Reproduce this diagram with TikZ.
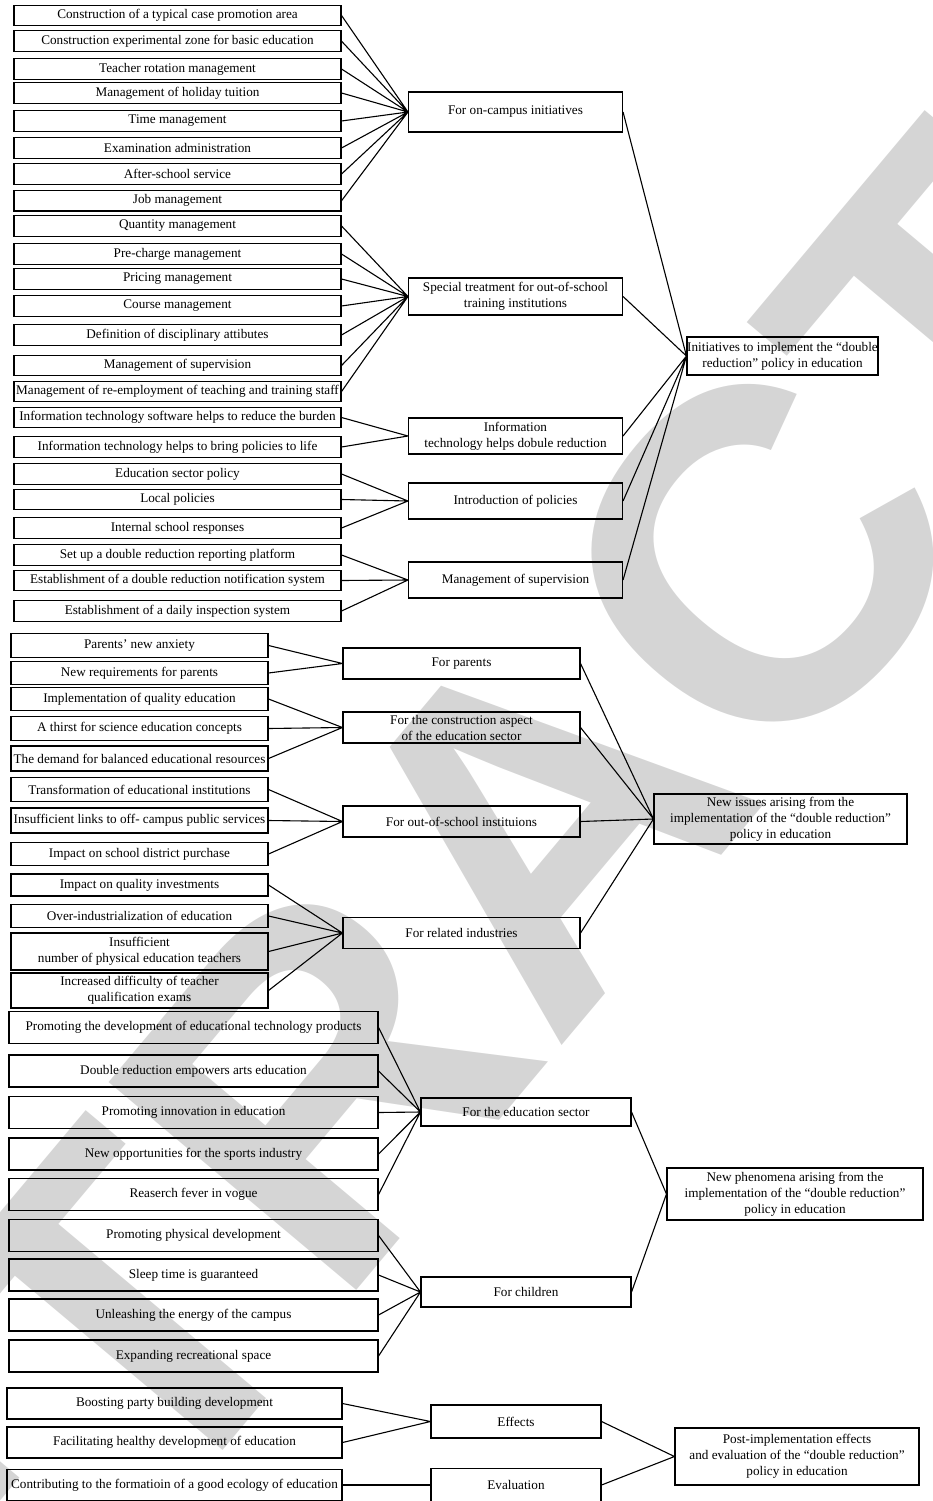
\documentclass[tikz,border=0pt]{standalone}
\usepackage{fontspec}
\setmainfont{Liberation Serif}
\newfontfamily\wmfont{Liberation Sans}
\definecolor{wmgray}{RGB}{213,213,213}
\tikzset{
  box/.style={draw, line width=1.1pt, align=center, inner sep=0pt, font=\fontsize{13.2}{16}\selectfont},
  link/.style={line width=1.1pt},
  lboxA/.style={box, minimum width=327pt, minimum height=20.5pt},
  mboxA/.style={box, minimum width=214pt},
  lboxB/.style={box, minimum width=257pt, minimum height=23.5pt},
  mboxB/.style={box, minimum width=237pt, minimum height=31pt},
  lboxC/.style={box, minimum width=369pt, minimum height=32pt},
  mboxC/.style={box, minimum width=210pt},
  lboxD/.style={box, minimum width=335pt, minimum height=31pt},
  mboxD/.style={box, minimum width=170pt, minimum height=33pt},
}

\begin{document}
\begin{tikzpicture}[x=1pt,y=-1pt]
\useasboundingbox (0,0) rectangle (933,1501);
\node[text=wmgray, rotate=50, font=\wmfont\bfseries\fontsize{470}{470}\selectfont] (wm) at (540,820) {RETRACTED};

\node[lboxA] (a1) at (177.5,15.5) {Construction of a typical case promotion area};
\node[lboxA] (a2) at (177.5,41.2) {Construction experimental zone for basic education};
\node[lboxA] (a3) at (177.5,69) {Teacher rotation management};
\node[lboxA] (a4) at (177.5,93) {Management of holiday tuition};
\node[lboxA] (a5) at (177.5,121) {Time management};
\node[lboxA] (a6) at (177.5,148) {Examination administration};
\node[lboxA] (a7) at (177.5,174) {After-school service};
\node[lboxA] (a8) at (177.5,200.7) {Job management};
\node[lboxA] (a9) at (177.5,226) {Quantity management};
\node[lboxA] (a10) at (177.5,254) {Pre-charge management};
\node[lboxA] (a11) at (177.5,279) {Pricing management};
\node[lboxA] (a12) at (177.5,306) {Course management};
\node[lboxA] (a13) at (177.5,335) {Definition of disciplinary attibutes};
\node[lboxA] (a14) at (177.5,365.5) {Management of supervision};
\node[lboxA] (a15) at (177.5,391.5) {Management of re-employment of teaching and training staff};
\node[lboxA] (a16) at (177.5,417.5) {Information technology software helps to reduce the burden};
\node[lboxA] (a17) at (177.5,447) {Information technology helps to bring policies to life};
\node[lboxA] (a18) at (177.5,474) {Education sector policy};
\node[lboxA] (a19) at (177.5,499.5) {Local policies};
\node[lboxA] (a20) at (177.5,528) {Internal school responses};
\node[lboxA] (a21) at (177.5,555) {Set up a double reduction reporting platform};
\node[lboxA] (a22) at (177.5,580.5) {Establishment of a double reduction notification system};
\node[lboxA] (a23) at (177.5,611) {Establishment of a daily inspection system};

\node[mboxA, minimum height=40pt] (m1) at (515.5,112) {For on-campus initiatives};
\node[mboxA, minimum height=37pt] (m2) at (515.5,296.5) {Special treatment for out-of-school\\training institutions};
\node[mboxA, minimum height=36pt] (m3) at (515.5,436) {Information\\technology helps dobule reduction};
\node[mboxA, minimum height=36pt] (m4) at (515.5,501) {Introduction of policies};
\node[mboxA, minimum height=36pt] (m5) at (515.5,580) {Management of supervision};
\node[box, minimum width=191pt, minimum height=38pt] (r1) at (782.5,356) {Initiatives to implement the “double\\reduction” policy in education};

\draw[link] (a1.east) -- (m1.west) (a2.east) -- (m1.west) (a3.east) -- (m1.west) (a4.east) -- (m1.west)
  (a5.east) -- (m1.west) (a6.east) -- (m1.west) (a7.east) -- (m1.west) (a8.east) -- (m1.west);
\draw[link] (a9.east) -- (m2.west) (a10.east) -- (m2.west) (a11.east) -- (m2.west) (a12.east) -- (m2.west)
  (a13.east) -- (m2.west) (a14.east) -- (m2.west) (a15.east) -- (m2.west);
\draw[link] (a16.east) -- (m3.west) (a17.east) -- (m3.west);
\draw[link] (a18.east) -- (m4.west) (a19.east) -- (m4.west) (a20.east) -- (m4.west);
\draw[link] (a21.east) -- (m5.west) (a22.east) -- (m5.west) (a23.east) -- (m5.west);
\draw[link] (m1.east) -- (r1.west) (m2.east) -- (r1.west) (m3.east) -- (r1.west) (m4.east) -- (r1.west) (m5.east) -- (r1.west);

\node[lboxB] (b1) at (139.5,645.5) {Parents’ new anxiety};
\node[lboxB] (b2) at (139.5,673) {New requirements for parents};
\node[lboxB] (b3) at (139.5,699) {Implementation of quality education};
\node[lboxB] (b4) at (139.5,728.5) {A thirst for science education concepts};
\node[lboxB, minimum height=25pt] (b5) at (139.5,758.5) {The demand for balanced educational resources};
\node[lboxB] (b6) at (139.5,789.5) {Transformation of educational institutions};
\node[lboxB, minimum height=25pt] (b7) at (139.5,820.5) {Insufficient links to off- campus public services};
\node[lboxB] (b8) at (139.5,854) {Impact on school district purchase};
\node[lboxB, minimum height=22pt] (b9) at (139.5,885) {Impact on quality investments};
\node[lboxB] (b10) at (139.5,916) {Over-industrialization of education};
\node[lboxB, minimum height=37pt] (b11) at (139.5,951.5) {Insufficient\\number of physical education teachers};
\node[lboxB, minimum height=35pt] (b12) at (139.5,990.5) {Increased difficulty of teacher\\qualification exams};

\node[mboxB] (n1) at (461.5,663.5) {For parents};
\node[mboxB] (n2) at (461.5,727.5) {For the construction aspect\\of the education sector};
\node[mboxB] (n3) at (461.5,821.5) {For out-of-school instituions};
\node[mboxB] (n4) at (461.5,933) {For related industries};
\node[box, minimum width=253pt, minimum height=50pt] (r2) at (780.5,819) {New issues arising from the\\implementation of the “double reduction”\\policy in education};

\draw[link] (b1.east) -- (n1.west) (b2.east) -- (n1.west);
\draw[link] (b3.east) -- (n2.west) (b4.east) -- (n2.west) (b5.east) -- (n2.west);
\draw[link] (b6.east) -- (n3.west) (b7.east) -- (n3.west) (b8.east) -- (n3.west);
\draw[link] (b9.east) -- (n4.west) (b10.east) -- (n4.west) (b11.east) -- (n4.west) (b12.east) -- (n4.west);
\draw[link] (n1.east) -- (r2.west) (n2.east) -- (r2.west) (n3.east) -- (r2.west) (n4.east) -- (r2.west);

\node[lboxC] (c1) at (193.5,1027.5) {Promoting the development of educational technology products};
\node[lboxC] (c2) at (193.5,1071) {Double reduction empowers arts education};
\node[lboxC] (c3) at (193.5,1112.5) {Promoting innovation in education};
\node[lboxC] (c4) at (193.5,1154) {New opportunities for the sports industry};
\node[lboxC] (c5) at (193.5,1194.5) {Reaserch fever in vogue};
\node[lboxC] (c6) at (193.5,1235.5) {Promoting physical development};
\node[lboxC] (c7) at (193.5,1275) {Sleep time is guaranteed};
\node[lboxC] (c8) at (193.5,1315) {Unleashing the energy of the campus};
\node[lboxC] (c9) at (193.5,1356) {Expanding recreational space};

\node[mboxC, minimum height=28pt] (p1) at (526,1112) {For the education sector};
\node[mboxC, minimum height=30pt] (p2) at (526,1292) {For children};
\node[box, minimum width=256pt, minimum height=52pt] (r3) at (795,1194) {New phenomena arising from the\\implementation of the “double reduction”\\policy in education};

\draw[link] (c1.east) -- (p1.west) (c2.east) -- (p1.west) (c3.east) -- (p1.west) (c4.east) -- (p1.west) (c5.east) -- (p1.west);
\draw[link] (c6.east) -- (p2.west) (c7.east) -- (p2.west) (c8.east) -- (p2.west) (c9.east) -- (p2.west);
\draw[link] (p1.east) -- (r3.west) (p2.east) -- (r3.west);

\node[lboxD] (d1) at (174.5,1403.5) {Boosting party building development};
\node[lboxD] (d2) at (174.5,1442.5) {Facilitating healthy development of education};
\node[lboxD] (d3) at (174.5,1485) {Contributing to the formatioin of a good ecology of education};

\node[mboxD] (q1) at (516,1421.5) {Effects};
\node[mboxD] (q2) at (516,1485) {Evaluation};
\node[box, minimum width=244pt, minimum height=57pt] (r4) at (797,1456.5) {Post-implementation effects\\and evaluation of the “double reduction”\\policy in education};

\draw[link] (d1.east) -- (q1.west) (d2.east) -- (q1.west);
\draw[link] (d3.east) -- (q2.west);
\draw[link] (q1.east) -- (r4.west) (q2.east) -- (r4.west);
\end{tikzpicture}
\end{document}
